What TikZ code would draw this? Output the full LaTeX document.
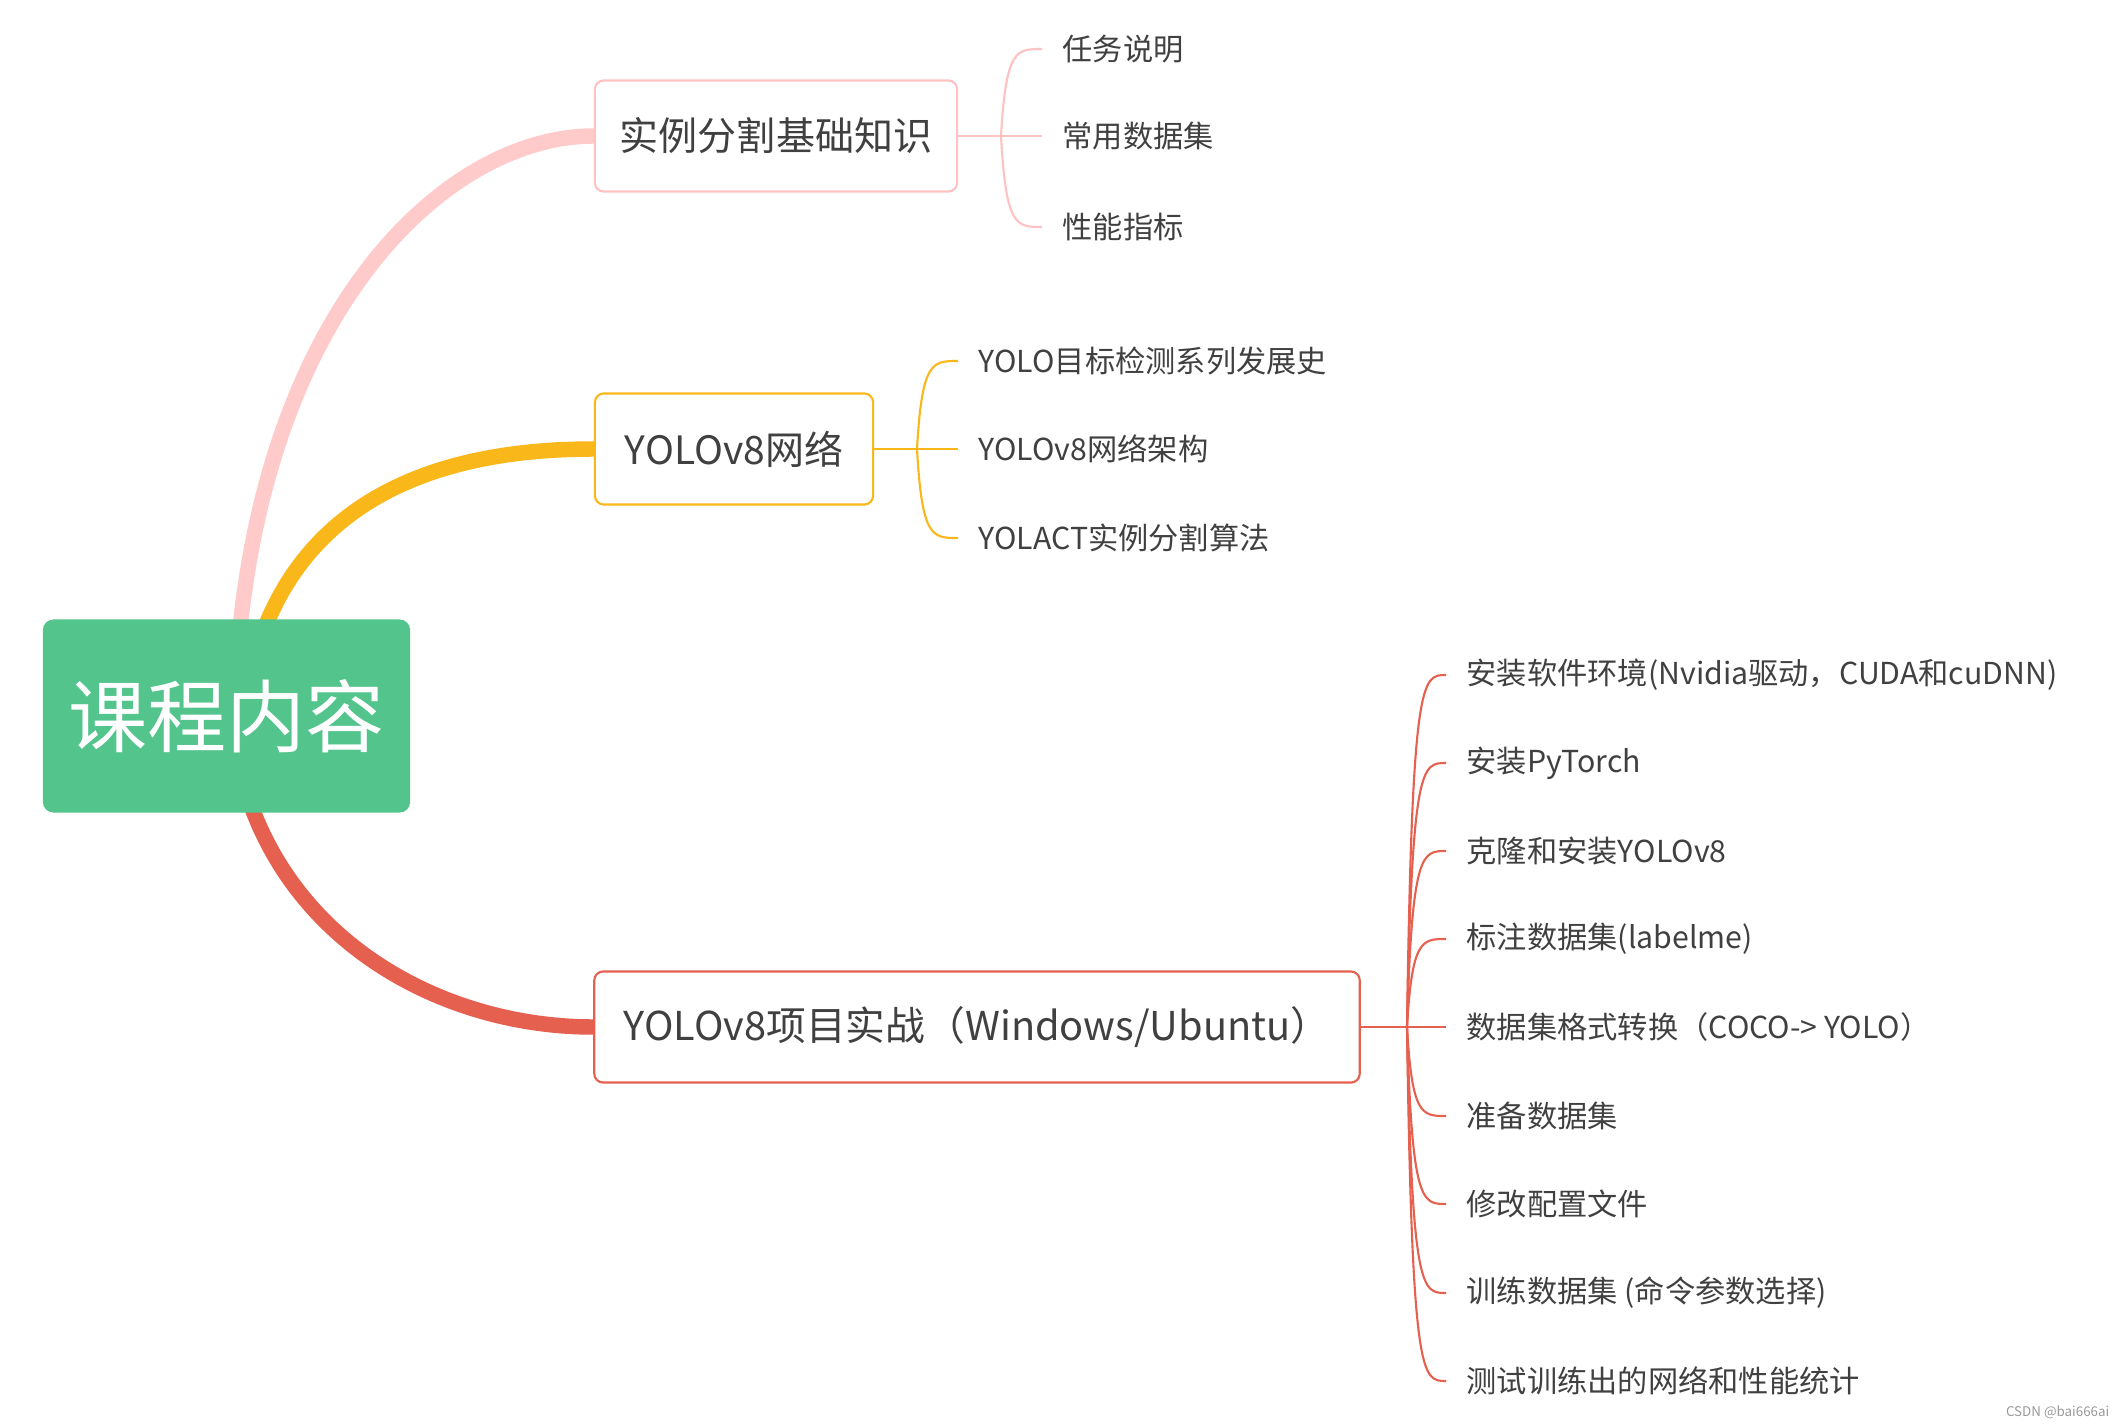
\documentclass[tikz,border=0pt]{standalone}
\usepackage{fontspec}
\newfontfamily\cjk{Noto Sans CJK SC}
\usetikzlibrary{backgrounds,calc}
\definecolor{cgreen}{HTML}{52C48C}
\definecolor{cpink}{HTML}{FFCACA}
\definecolor{cpinkb}{HTML}{FFC2C2}
\definecolor{corange}{HTML}{F9B71A}
\definecolor{cred}{HTML}{E6604F}
\definecolor{ctext}{HTML}{404040}
\begin{document}
\begin{tikzpicture}[x=0.01cm,y=-0.01cm,
  root/.style={fill=cgreen, rounded corners=3pt, minimum width=3.67cm, minimum height=1.93cm, text=white, font=\cjk\fontsize{22.5pt}{26pt}\selectfont, inner sep=0},
  topic/.style={draw, fill=white, line width=0.6pt, rounded corners=2.5pt, minimum height=1.11cm, text=ctext, font=\cjk\fontsize{11.1pt}{13pt}\selectfont, inner sep=0},
  leaf/.style={anchor=west, inner xsep=0.2cm, inner ysep=0, text=ctext, font=\cjk\fontsize{8.6pt}{10pt}\selectfont},
  trunk/.style={line width=4.4pt},
  twig/.style={line width=0.6pt},
]
\useasboundingbox (0,0) rectangle (2122,1428);

\node[root] (root) at (226.5,716) {课程内容};
\node[topic, draw=cpinkb, minimum width=3.62cm] (t1) at (776,136) {实例分割基础知识};
\node[topic, draw=corange, minimum width=2.78cm] (t2) at (734,449) {YOLOv8网络};
\node[topic, draw=cred, minimum width=7.65cm, font=\cjk\fontsize{11.3pt}{13pt}\selectfont] (t3) at (977,1027) {YOLOv8项目实战（Windows/Ubuntu）};

\begin{scope}[on background layer]
\draw[trunk,cpink] ($(root.north)+(13,15)$) .. controls (272,300) and (450,136) .. (t1.west);
\draw[trunk,corange] ($(root.north)+(36,15)$) .. controls (320,480) and (470,449) .. (t2.west);
\draw[trunk,cred] ($(root.south)+(22,-15)$) .. controls (300,950) and (450,1027) .. (t3.west);
\end{scope}

% branch 1
\coordinate (s1) at (1001,136);
\node[leaf] (a1) at (1042,49) {任务说明};
\node[leaf] (a2) at (1042,136) {常用数据集};
\node[leaf] (a3) at (1042,227) {性能指标};
\draw[twig,cpinkb] (t1.east) -- (a2.west);
\foreach \n in {a1,a3}
  \draw[twig,cpinkb] (s1) .. controls ($(s1|-\n.west)+(5,0)$) and ($(s1|-\n.west)+(15,0)$) .. (\n.west);

% branch 2
\coordinate (s2) at (917,449);
\node[leaf] (b1) at (958,361) {YOLO目标检测系列发展史};
\node[leaf] (b2) at (958,449) {YOLOv8网络架构};
\node[leaf] (b3) at (958,538) {YOLACT实例分割算法};
\draw[twig,corange] (t2.east) -- (b2.west);
\foreach \n in {b1,b3}
  \draw[twig,corange] (s2) .. controls ($(s2|-\n.west)+(5,0)$) and ($(s2|-\n.west)+(15,0)$) .. (\n.west);

% branch 3
\coordinate (s3) at (1407,1027);
\node[leaf] (c1) at (1446,675) {安装软件环境(Nvidia驱动，CUDA和cuDNN)};
\node[leaf] (c2) at (1446,763) {安装PyTorch};
\node[leaf] (c3) at (1446,851) {克隆和安装YOLOv8};
\node[leaf] (c4) at (1446,939) {标注数据集(labelme)};
\node[leaf] (c5) at (1446,1027) {数据集格式转换（COCO-> YOLO）};
\node[leaf] (c6) at (1446,1116) {准备数据集};
\node[leaf] (c7) at (1446,1204) {修改配置文件};
\node[leaf] (c8) at (1446,1293) {训练数据集 (命令参数选择)};
\node[leaf] (c9) at (1446,1381) {测试训练出的网络和性能统计};
\draw[twig,cred] (t3.east) -- (c5.west);
\foreach \n in {c1,c2,c3,c4,c6,c7,c8,c9}
  \draw[twig,cred] (s3) .. controls ($(s3|-\n.west)+(5,0)$) and ($(s3|-\n.west)+(15,0)$) .. (\n.west);

\node[anchor=east, inner sep=0, text=black!40, font=\cjk\fontsize{3.8pt}{4.5pt}\selectfont] (wm) at (2110,1412) {CSDN @bai666ai};
\end{tikzpicture}
\end{document}
